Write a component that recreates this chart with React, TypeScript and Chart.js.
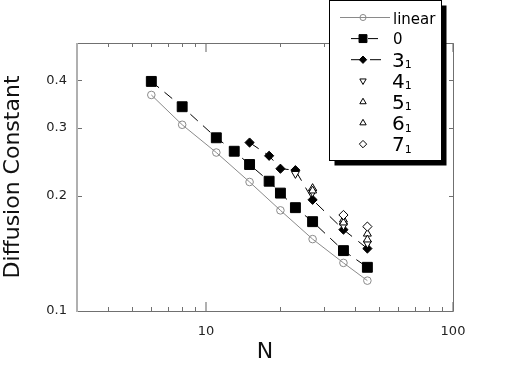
import React, { useEffect, useRef } from 'react';
import { Chart, registerables } from 'chart.js';

Chart.register(...registerables);

// ---- data ----
const seriesNames = ['linear', '0', '3_1', '4_1', '5_1', '6_1', '7_1'];

const nLinear = [6, 8, 11, 15, 20, 27, 36, 45];
const dLinear = [0.366, 0.306, 0.259, 0.217, 0.183, 0.154, 0.1335, 0.12];

const nRing0 = [6, 8, 11, 13, 15, 18, 20, 23, 27, 36, 45];
const dRing0 = [0.397, 0.341, 0.283, 0.261, 0.241, 0.218, 0.203, 0.186, 0.171, 0.1437, 0.13];

const nKnot31 = [15, 18, 20, 23, 27, 36, 45];
const dKnot31 = [0.275, 0.254, 0.235, 0.233, 0.195, 0.163, 0.1455];

const nKnot41 = [23, 27, 36, 45];
const dKnot41 = [0.228, 0.204, 0.167, 0.15];

const nKnot51 = [27, 36, 45];
const dKnot51 = [0.209, 0.173, 0.159];

const nKnot61 = [27, 36, 45];
const dKnot61 = [0.206, 0.17, 0.1535];

const nKnot71 = [36, 45];
const dKnot71 = [0.178, 0.166];

const xRange = [3, 100];
const yRange = [0.1, 0.5];
const xTickValues = [10, 100];
const xTickLabels = ['10', '100'];
const xMinorValues = [4, 5, 6, 7, 8, 9, 20, 30, 40, 50, 60, 70, 80, 90];
const yTickValues = [0.1, 0.2, 0.3, 0.4];
const yTickLabels = ['0.1', '0.2', '0.3', '0.4'];

const xTitle = 'N';
const yTitle = 'Diffusion Constant';

// ---- styles ----
type Style = {
  pointStyle: string;
  rotation: number;
  radius: number;
  fill: string;
  stroke: string;
  line: boolean;
  lineColor: string;
  dash: number[];
};

const styles: Style[] = [
  { pointStyle: 'circle', rotation: 0, radius: 3.8, fill: 'rgba(0,0,0,0)', stroke: '#8a8a8a', line: true, lineColor: '#8a8a8a', dash: [] },
  { pointStyle: 'rect', rotation: 0, radius: 7, fill: '#000', stroke: '#000', line: true, lineColor: '#000', dash: [10, 7] },
  { pointStyle: 'rectRot', rotation: 0, radius: 4.6, fill: '#000', stroke: '#000', line: true, lineColor: '#000', dash: [11, 8] },
  { pointStyle: 'triangle', rotation: 180, radius: 4.6, fill: '#fff', stroke: '#000', line: false, lineColor: '#000', dash: [] },
  { pointStyle: 'triangle', rotation: 0, radius: 4.6, fill: '#fff', stroke: '#000', line: false, lineColor: '#000', dash: [] },
  { pointStyle: 'triangle', rotation: 0, radius: 4.6, fill: '#fff', stroke: '#000', line: false, lineColor: '#000', dash: [] },
  { pointStyle: 'rectRot', rotation: 0, radius: 4.6, fill: '#fff', stroke: '#000', line: false, lineColor: '#000', dash: [] },
];

const seriesN = [nLinear, nRing0, nKnot31, nKnot41, nKnot51, nKnot61, nKnot71];
const seriesD = [dLinear, dRing0, dKnot31, dKnot41, dKnot51, dKnot61, dKnot71];

function drawMarker(ctx: CanvasRenderingContext2D, s: Style, x: number, y: number, r: number) {
  ctx.save();
  ctx.setLineDash([]);
  ctx.beginPath();
  if (s.pointStyle === 'circle') {
    ctx.arc(x, y, r, 0, Math.PI * 2);
  } else if (s.pointStyle === 'rect') {
    const h = r * Math.SQRT1_2;
    ctx.rect(x - h, y - h, 2 * h, 2 * h);
  } else if (s.pointStyle === 'rectRot') {
    ctx.moveTo(x - r, y);
    ctx.lineTo(x, y + r);
    ctx.lineTo(x + r, y);
    ctx.lineTo(x, y - r);
    ctx.closePath();
  } else if (s.pointStyle === 'triangle') {
    let rad = (s.rotation * Math.PI) / 180;
    for (let i = 0; i < 3; i++) {
      const px = x + Math.sin(rad) * r;
      const py = y - Math.cos(rad) * r;
      if (i === 0) ctx.moveTo(px, py);
      else ctx.lineTo(px, py);
      rad += (2 * Math.PI) / 3;
    }
    ctx.closePath();
  }
  ctx.fillStyle = s.fill;
  ctx.fill();
  ctx.strokeStyle = s.stroke;
  ctx.lineWidth = 1;
  ctx.stroke();
  ctx.restore();
}

const framePlugin = {
  id: 'frameAndLegend',
  afterDraw(chart: any) {
    const { ctx, chartArea: a } = chart;
    const xs = chart.scales.x;
    const ys = chart.scales.y;
    ctx.save();
    const seg = (x1: number, y1: number, x2: number, y2: number) => {
      ctx.beginPath();
      ctx.moveTo(x1, y1);
      ctx.lineTo(x2, y2);
      ctx.stroke();
    };
    // minor x ticks
    ctx.strokeStyle = '#707070';
    ctx.lineWidth = 1;
    for (const v of xMinorValues) {
      const px = Math.round(xs.getPixelForValue(v)) + 0.5;
      seg(px, a.bottom, px, a.bottom - 4);
      seg(px, a.top, px, a.top + 4);
    }
    // y ticks
    for (const v of yTickValues) {
      if (v === yRange[0]) continue;
      const py = Math.round(ys.getPixelForValue(v)) + 0.5;
      seg(a.left, py, a.left + 5, py);
      seg(a.right, py, a.right - 4, py);
    }
    // major x ticks
    ctx.strokeStyle = '#b0b0b0';
    ctx.lineWidth = 2;
    for (const v of xTickValues) {
      const px = Math.round(xs.getPixelForValue(v));
      seg(px, a.bottom, px, a.bottom - 9);
      seg(px, a.top, px, a.top + 9);
    }
    // frame
    ctx.strokeStyle = '#707070';
    ctx.lineWidth = 1;
    const l = Math.round(a.left), r = Math.round(a.right) + 0.5;
    const t = Math.round(a.top) + 0.5, b = Math.round(a.bottom) + 0.5;
    seg(l, t, r, t);
    seg(l, b, r, b);
    seg(r, t, r, b);
    ctx.strokeStyle = '#b0b0b0';
    ctx.lineWidth = 2;
    seg(l, a.top, l, b + 0.5);

    // legend box
    const bx = 329.5, by = 0.5, bw = 112, bh = 160;
    ctx.fillStyle = '#000';
    ctx.fillRect(bx + 5, by + 5, bw, bh);
    ctx.fillStyle = '#fff';
    ctx.fillRect(bx, by, bw, bh);
    ctx.strokeStyle = '#000';
    ctx.lineWidth = 1;
    ctx.strokeRect(bx, by, bw, bh);

    const markerX = 363;
    const textX = 393;
    seriesNames.forEach((name, i) => {
      const s = styles[i];
      const cy = 17.5 + i * 21.1;
      if (s.line) {
        ctx.save();
        ctx.strokeStyle = s.lineColor;
        ctx.lineWidth = 1;
        ctx.setLineDash(s.dash);
        if (i === 0) seg(340, cy, 390, cy);
        else seg(351, cy, 385, cy);
        ctx.restore();
      }
      drawMarker(ctx, s, markerX, cy, s.radius * 0.8);
      ctx.fillStyle = '#000';
      ctx.textAlign = 'left';
      ctx.textBaseline = 'alphabetic';
      const parts = name.split('_');
      if (parts.length === 1) {
        ctx.font = '15px "DejaVu Sans"';
        ctx.fillText(parts[0], textX, cy + (i === 0 ? 6.5 : 5.3));
      } else {
        ctx.font = '20px "DejaVu Sans"';
        ctx.fillText(parts[0], textX - 1, cy + 6.8);
        const w = ctx.measureText(parts[0]).width;
        ctx.font = '11px "DejaVu Sans"';
        ctx.fillText(parts[1], textX - 1 + w, cy + 8.5);
      }
    });
    ctx.restore();
  },
};

export default function App() {
  const ref = useRef<HTMLCanvasElement | null>(null);
  useEffect(() => {
    if (!ref.current) return;
    const datasets = seriesNames.map((name, i) => {
      const s = styles[i];
      return {
        label: name,
        data: seriesN[i].map((n, k) => ({ x: n, y: seriesD[i][k] })),
        showLine: s.line,
        borderColor: s.lineColor,
        borderWidth: 1,
        borderDash: s.dash,
        pointStyle: s.pointStyle,
        pointRotation: s.rotation,
        pointRadius: s.radius,
        pointBackgroundColor: s.fill,
        pointBorderColor: s.stroke,
        pointBorderWidth: 1,
        order: seriesNames.length - i,
        fill: false,
      };
    });
    const chart = new Chart(ref.current, {
      type: 'scatter',
      data: { datasets },
      plugins: [framePlugin],
      options: {
        animation: false,
        responsive: false,
        maintainAspectRatio: false,
        layout: { padding: { left: 0, top: 43, right: 58, bottom: 0 } },
        plugins: { legend: { display: false }, tooltip: { enabled: false } },
        scales: {
          x: {
            type: 'logarithmic',
            min: xRange[0],
            max: xRange[1],
            grid: { display: false, drawTicks: false },
            border: { display: false },
            afterBuildTicks: (sc: any) => {
              sc.ticks = xTickValues.map((v) => ({ value: v }));
            },
            afterFit: (sc: any) => {
              sc.height = 56;
            },
            ticks: {
              autoSkip: false,
              maxRotation: 0,
              padding: 13,
              color: '#222',
              font: { family: 'DejaVu Sans', size: 13 },
              callback: (v: any) => {
                const k = xTickValues.indexOf(Number(v));
                return k >= 0 ? xTickLabels[k] : '';
              },
            },
            title: {
              display: true,
              text: xTitle,
              color: '#111',
              font: { family: 'DejaVu Sans', size: 22 },
              padding: { top: 0, bottom: 2 },
            },
          },
          y: {
            type: 'logarithmic',
            min: yRange[0],
            max: yRange[1],
            grid: { display: false, drawTicks: false },
            border: { display: false },
            afterBuildTicks: (sc: any) => {
              sc.ticks = yTickValues.map((v) => ({ value: v }));
            },
            afterFit: (sc: any) => {
              sc.width = 77;
            },
            ticks: {
              autoSkip: false,
              padding: 10,
              color: '#222',
              font: { family: 'DejaVu Sans', size: 13 },
              callback: (v: any) => {
                const k = yTickValues.findIndex((t) => Math.abs(t - Number(v)) < 1e-9);
                return k >= 0 ? yTickLabels[k] : '';
              },
            },
            title: {
              display: true,
              text: yTitle,
              color: '#111',
              font: { family: 'DejaVu Sans', size: 22 },
              padding: { top: 0, bottom: 0 },
            },
          },
        },
      },
    } as any);
    return () => chart.destroy();
  }, []);
  return (
    <div style={{ position: 'absolute', left: 0, top: 0, width: 511, height: 367, background: '#fff' }}>
      <canvas ref={ref} width={511} height={367} style={{ width: 511, height: 367, display: 'block' }} />
    </div>
  );
}
